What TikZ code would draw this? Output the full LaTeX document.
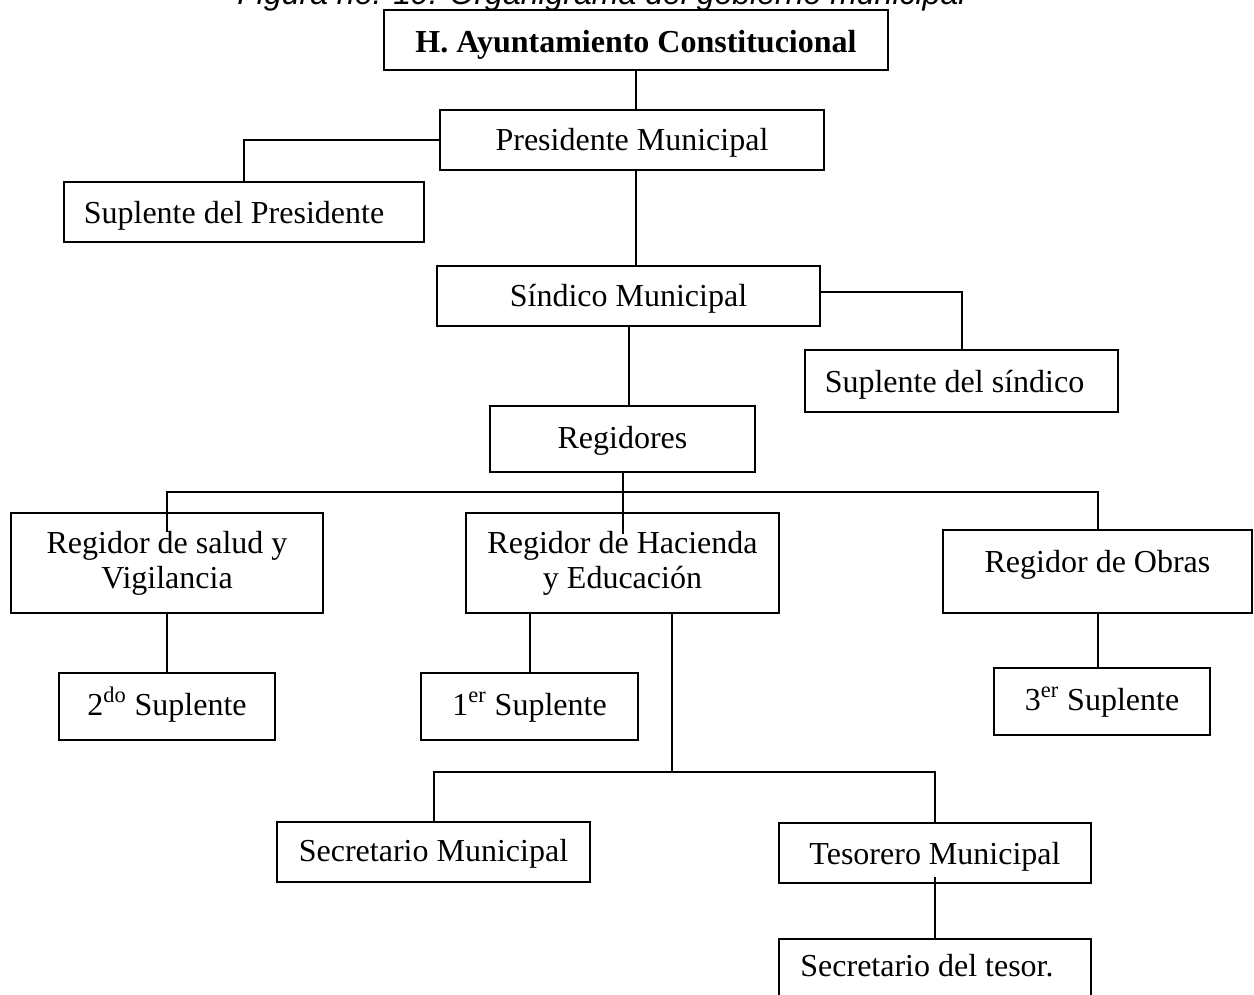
\documentclass[tikz,border=0pt]{standalone}
\usepackage{fontspec}
\setmainfont{Liberation Serif}
\newfontfamily\capfont{Liberation Sans}
\usetikzlibrary{calc}
\tikzset{
  orgbox/.style={draw, line width=1pt, inner sep=0pt, align=center,
    font=\fontsize{16}{17.5}\selectfont},
  lift/.style={text height=#1, text depth=3.5pt},
  conn/.style={line width=1pt},
}
\begin{document}
\begin{tikzpicture}[x=0.5pt,y=-0.5pt]
\useasboundingbox (0,0) rectangle (1254,995);
\clip (0,0) rectangle (1254,995);
% caption (cut at top)
\node[anchor=base, inner sep=0pt, font=\capfont\itshape\fontsize{16}{19}\selectfont] (cap) at (601.5,5) {Figura no. 19. Organigrama del gobierno municipal};
% boxes
\node[orgbox, lift=16pt, minimum width=252pt, minimum height=30pt] (ayunt) at (636,40) {\bfseries H. Ayuntamiento Constitucional};
\node[orgbox, lift=14pt, minimum width=192pt, minimum height=30pt] (pres) at (632,140) {Presidente Municipal};
\node[orgbox, lift=15pt, minimum width=180pt, minimum height=30pt] (supPres) at (244,212) {\hspace*{-10pt}Suplente del Presidente};
\node[orgbox, lift=14pt, minimum width=191.5pt, minimum height=30pt] (sind) at (628.5,296) {Síndico Municipal};
\node[orgbox, lift=15pt, minimum width=156.5pt, minimum height=31pt] (supSind) at (961.5,381) {\hspace*{-7pt}Suplente del síndico};
\node[orgbox, lift=13pt, minimum width=132.5pt, minimum height=33pt] (reg) at (622.5,439) {Regidores};
\node[orgbox, minimum width=156pt, minimum height=50pt] (salud) at (167,563) {Regidor de salud y\\Vigilancia};
\node[orgbox, minimum width=156.5pt, minimum height=50pt] (hac) at (622.5,563) {Regidor de Hacienda\\y Educación};
\node[orgbox, lift=4.5pt, minimum width=154.5pt, minimum height=41.5pt] (obras) at (1097.5,571.5) {Regidor de Obras};
\node[orgbox, lift=12.5pt, minimum width=108pt, minimum height=33.5pt] (do2) at (167,706.5) {2\textsuperscript{do} Suplente};
\node[orgbox, lift=12.5pt, minimum width=108.5pt, minimum height=33.5pt] (er1) at (529.5,706.5) {1\textsuperscript{er} Suplente};
\node[orgbox, lift=12.5pt, minimum width=108pt, minimum height=33.5pt] (er3) at (1102,701.5) {3\textsuperscript{er} Suplente};
\node[orgbox, lift=13pt, minimum width=156.5pt, minimum height=30pt] (secm) at (433.5,852) {Secretario Municipal};
\node[orgbox, lift=15pt, minimum width=156pt, minimum height=30pt] (tes) at (935,853) {Tesorero Municipal};
\node[orgbox, lift=6pt, minimum width=156pt, minimum height=35pt] (sectes) at (935,974) {\hspace*{-8pt}Secretario del tesor.};
% junction coordinates
\coordinate (bus) at (624,492);
\coordinate (j) at (672,772);
% connectors
\draw[conn] (ayunt.south) -- (ayunt.south |- pres.north);
\draw[conn] (pres.west) -| (supPres.north);
\draw[conn] (ayunt.south |- pres.south) -- (ayunt.south |- sind.north);
\draw[conn] ([yshift=2pt]sind.east) -| (supSind.north);
\draw[conn] (sind.south) -- (sind.south |- reg.north);
\draw[conn] (reg.south) -- ([yshift=-11pt]reg.south |- hac.north);
\draw[conn] ([yshift=-10pt]salud.north) |- (bus) -| (obras.north);
\draw[conn] (salud.south) -- (do2.north);
\draw[conn] (er1.north |- hac.south) -- (er1.north);
\draw[conn] (j |- hac.south) -- (j);
\draw[conn] (secm.north) |- (j) -| (tes.north);
\draw[conn] ([yshift=3.5pt]tes.south) -- (sectes.north);
\draw[conn] (obras.south) -- (obras.south |- er3.north);
\end{tikzpicture}
\end{document}
